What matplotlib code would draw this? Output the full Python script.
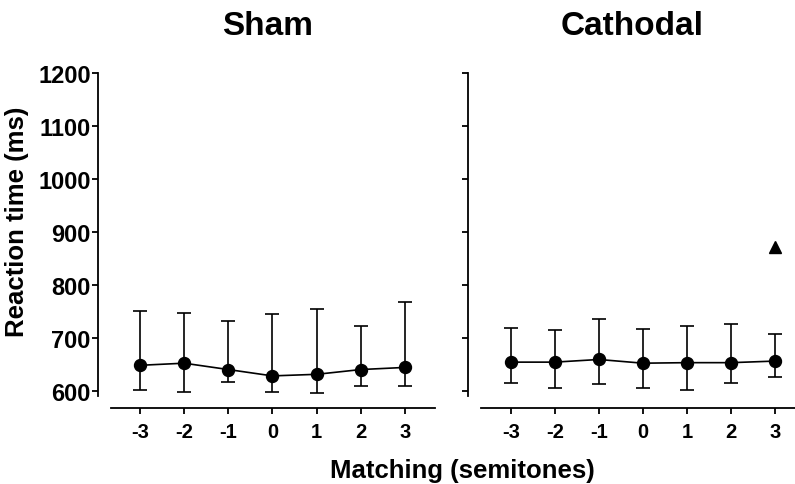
import matplotlib
matplotlib.use('Agg')
import matplotlib.pyplot as plt

plt.rcParams['font.family'] = ['Liberation Sans', 'DejaVu Sans']
plt.rcParams['font.weight'] = 'bold'

semitones = [-3, -2, -1, 0, 1, 2, 3]
tick_labels = ['-3', '-2', '-1', '0', '1', '2', '3']

sham_mean = [648, 652, 640, 628, 631, 640, 644]
sham_low = [601, 598, 617, 597, 595, 608, 609]
sham_high = [750, 746, 732, 744, 755, 722, 768]

cath_mean = [654, 654, 659, 652, 653, 653, 656]
cath_low = [614, 605, 613, 605, 601, 614, 625]
cath_high = [718, 715, 736, 717, 722, 726, 708]

# single outlier marker in the cathodal panel
cath_star_x = [3]
cath_star_y = [872]

yticks = [600, 700, 800, 900, 1000, 1100, 1200]

fig = plt.figure(figsize=(7.95, 4.85), dpi=100)
ax1 = fig.add_axes([0.1396, 0.1814, 0.4075, 0.666])
ax2 = fig.add_axes([0.6047, 0.1814, 0.4075, 0.666])


def draw_panel(ax, mean, low, high, show_labels):
    yerr = [[m - l for m, l in zip(mean, low)],
            [h - m for m, h in zip(mean, high)]]
    ax.errorbar(semitones, mean, yerr=yerr, fmt='-o', color='black',
                ms=8.6, lw=1.2, elinewidth=1.2, capsize=5, capthick=1.2,
                zorder=3)
    ax.set_ylim(590, 1200)
    ax.set_yticks(yticks)
    ax.set_xticks(semitones)
    ax.set_xticklabels(tick_labels)
    for s in ['top', 'right']:
        ax.spines[s].set_visible(False)
    ax.spines['left'].set_position(('outward', 9))
    ax.spines['bottom'].set_position(('outward', 8.6))
    ax.spines['left'].set_linewidth(1.3)
    ax.spines['bottom'].set_linewidth(1.3)
    ax.tick_params(axis='both', direction='out', width=1.3, length=4)
    ax.tick_params(axis='y', labelsize=17, pad=1.5,
                   labelleft=show_labels)
    ax.tick_params(axis='x', labelsize=14.5, pad=6)


draw_panel(ax1, sham_mean, sham_low, sham_high, True)
ax1.set_xlim(-3.657, 3.679)

draw_panel(ax2, cath_mean, cath_low, cath_high, False)
ax2.set_xlim(-3.68, 3.67)
ax2.plot(cath_star_x, cath_star_y, '^', color='black', ms=9, zorder=3)

fig.text(0.337, 0.945, 'Sham', ha='center', va='center', fontsize=24,
         fontweight='bold')
fig.text(0.795, 0.945, 'Cathodal', ha='center', va='center', fontsize=24,
         fontweight='bold')
fig.text(0.581, 0.028, 'Matching (semitones)', ha='center', va='center',
         fontsize=18.5, fontweight='bold')
fig.text(0.021, 0.542, 'Reaction time (ms)', ha='center', va='center',
         rotation=90, fontsize=18.5, fontweight='bold')

plt.savefig('out.png', dpi=100)
plt.close()
